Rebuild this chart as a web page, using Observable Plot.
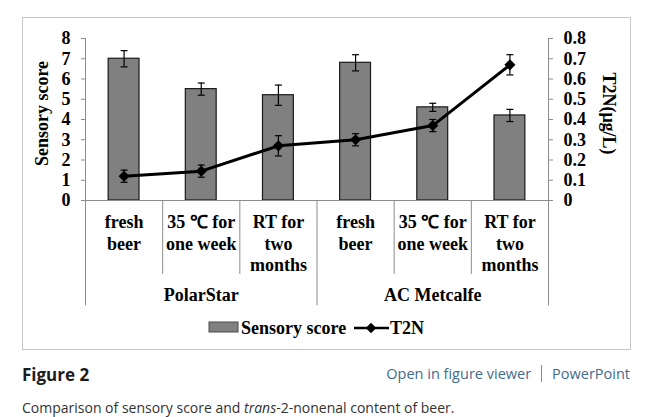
<!DOCTYPE html>
<html>
<head>
<meta charset="utf-8">
<script src="https://cdn.jsdelivr.net/npm/d3@7"></script>
<script src="https://cdn.jsdelivr.net/npm/@observablehq/plot@0.6"></script>
<style>
  html, body { margin: 0; padding: 0; background: #fff; }
  #page { position: relative; width: 660px; height: 417px; overflow: hidden; font-family: "Open Sans", sans-serif; }
  #frame { position: absolute; left: 22px; top: 17px; width: 609px; height: 333px; border: 1px solid #c6c6c6; box-sizing: border-box; }
  .layer { position: absolute; left: 0; top: 0; }
  #legend { position: absolute; left: 0; top: 0; }
  #fig { position: absolute; left: 22px; top: 363px; font-size: 17px; font-weight: 700; color: #1c1c1c; line-height: 24px; }
  #links { position: absolute; right: 30px; top: 362px; font-size: 14.5px; color: #3f6c8e; line-height: 24px; white-space: nowrap; }
  #links .sep { display: inline-block; width: 1px; height: 17px; background: #8a8a8a; vertical-align: -3px; margin: 0 10px 0 10px; }
  #caption { position: absolute; left: 22px; top: 397px; font-size: 14px; color: #333; line-height: 22px; white-space: nowrap; }
</style>
</head>
<body>
<div id="page">
  <div id="frame"></div>
  <div id="plot1" class="layer"></div>
  <div id="plot2" class="layer"></div>
  <svg id="legend" width="660" height="417"></svg>
  <div id="fig">Figure 2</div>
  <div id="links">Open in figure viewer<span class="sep"></span>PowerPoint</div>
  <div id="caption">Comparison of sensory score and <i>trans</i>-2-nonenal content of beer.</div>
</div>
<script>
// ---------- data ----------
const categories = ["fresh\nbeer", "35 ℃ for\none week", "RT for\ntwo\nmonths",
                    "fresh\nbeer", "35 ℃ for\none week", "RT for\ntwo\nmonths"];
const groups = ["PolarStar", "AC Metcalfe"];
const sensoryScore = [7.0, 5.5, 5.2, 6.8, 4.6, 4.2];
const sensoryError = [0.4, 0.3, 0.5, 0.4, 0.2, 0.3];
const t2n = [0.12, 0.145, 0.27, 0.30, 0.37, 0.67];
const t2nError = [0.03, 0.03, 0.05, 0.03, 0.03, 0.05];
const sensoryTicks = [0, 1, 2, 3, 4, 5, 6, 7, 8];
const t2nTicks = [0, 0.1, 0.2, 0.3, 0.4, 0.5, 0.6, 0.7, 0.8];
const seriesNames = ["Sensory score", "T2N"];
const leftTitle = "Sensory score";
const rightTitle = "T2N(μg/L)";

// ---------- derived tables ----------
const rows = categories.map((label, i) => ({
  i, label, group: groups[Math.floor(i / 3)],
  s: sensoryScore[i], se: sensoryError[i],
  t: t2n[i], te: t2nError[i]
}));
const groupRows = groups.map((g, k) => ({g, k}));
const boundaries = d3.range(categories.length + 1);

const axisGray = "#8c8c8c";
const capSymbol = {
  draw(ctx, size) {
    const r = Math.sqrt(size / Math.PI);
    ctx.moveTo(-r, 0);
    ctx.lineTo(r, 0);
  }
};

const common = {
  width: 660, height: 310,
  marginLeft: 85, marginRight: 112, marginTop: 38, marginBottom: 110,
  x: {domain: [0, categories.length], axis: null},
  style: {fontFamily: "'Liberation Serif', 'Times New Roman', serif", fontSize: "18px",
          fontWeight: "bold", background: "transparent", color: "#000", overflow: "visible"}
};

// ---------- bars, left axis, categories ----------
const p1 = Plot.plot({
  ...common,
  y: {domain: [0, 8], axis: null},
  marks: [
    Plot.rectY(rows, {x1: d => d.i + 0.3, x2: d => d.i + 0.7, y1: 0, y2: "s",
      fill: "#808080", stroke: "#1a1a1a", strokeWidth: 1.2}),
    Plot.ruleX(rows, {x: d => d.i + 0.5, y1: d => d.s - d.se, y2: d => d.s + d.se,
      stroke: "#000", strokeWidth: 1.2}),
    Plot.dot(rows.flatMap(d => [{i: d.i, y: d.s - d.se}, {i: d.i, y: d.s + d.se}]),
      {x: d => d.i + 0.5, y: "y", symbol: capSymbol, r: 3.5, stroke: "#000", strokeWidth: 1.2, fill: "none"}),
    Plot.ruleY([0], {stroke: axisGray, strokeWidth: 1}),
    Plot.ruleX([0], {y1: 0, y2: 8, stroke: axisGray, strokeWidth: 1}),
    Plot.ruleX(boundaries, {x: d => d, y1: 0, y2: d => (d % 3 === 0 ? -5.2 : -3.65),
      stroke: axisGray, strokeWidth: 1}),
    Plot.axisY({ticks: sensoryTicks, tickSize: 4, tickPadding: 11, stroke: axisGray,
      fill: "#000", label: null}),
    Plot.text(rows, {x: d => d.i + 0.5, text: "label", frameAnchor: "bottom",
      lineAnchor: "top", dy: 13, lineHeight: 1.17, fill: "#000"}),
    Plot.text(groupRows, {x: d => d.k * 3 + 1.5, text: "g", frameAnchor: "bottom",
      lineAnchor: "middle", dy: 95, fill: "#000"}),
    Plot.text([leftTitle], {frameAnchor: "left", textAnchor: "middle", lineAnchor: "middle",
      rotate: -90, dx: -43, dy: -6, fill: "#000"})
  ]
});
document.getElementById("plot1").appendChild(p1);

// ---------- T2N line, right axis ----------
const p2 = Plot.plot({
  ...common,
  y: {domain: [0, 0.8], axis: null},
  marks: [
    Plot.ruleX([categories.length], {y1: 0, y2: 0.8, stroke: axisGray, strokeWidth: 1}),
    Plot.axisY({anchor: "right", ticks: t2nTicks, tickSize: 4, tickPadding: 11, stroke: axisGray,
      fill: "#000", label: null, tickFormat: d => (d === 0 ? "0" : d3.format(".1f")(d))}),
    Plot.ruleX(rows, {x: d => d.i + 0.5, y1: d => d.t - d.te, y2: d => d.t + d.te,
      stroke: "#000", strokeWidth: 1.2}),
    Plot.dot(rows.flatMap(d => [{i: d.i, y: d.t - d.te}, {i: d.i, y: d.t + d.te}]),
      {x: d => d.i + 0.5, y: "y", symbol: capSymbol, r: 3.5, stroke: "#000", strokeWidth: 1.2, fill: "none"}),
    Plot.line(rows, {x: d => d.i + 0.5, y: "t", stroke: "#000", strokeWidth: 3}),
    Plot.dot(rows, {x: d => d.i + 0.5, y: "t", symbol: "diamond2", r: 5, fill: "#000", stroke: "none"}),
    Plot.text([rightTitle], {frameAnchor: "right", textAnchor: "middle", lineAnchor: "middle",
      rotate: 90, dx: 60, dy: -6, fill: "#000"})
  ]
});
document.getElementById("plot2").appendChild(p2);

// ---------- legend ----------
const lg = d3.select("#legend").append("g")
  .style("font-family", "'Liberation Serif', 'Times New Roman', serif")
  .style("font-size", "18px").style("font-weight", "bold");
lg.append("rect").attr("x", 209).attr("y", 322).attr("width", 29).attr("height", 10)
  .attr("fill", "#808080").attr("stroke", "#4a4a4a").attr("stroke-width", 1);
lg.append("text").attr("x", 241).attr("y", 334).text(seriesNames[0]);
lg.append("line").attr("x1", 354).attr("x2", 389).attr("y1", 328).attr("y2", 328)
  .attr("stroke", "#000").attr("stroke-width", 2.5);
lg.append("path").attr("transform", "translate(371,328)")
  .attr("d", d3.symbol(d3.symbolDiamond2, 70)()).attr("fill", "#000");
lg.append("text").attr("x", 390).attr("y", 334).text(seriesNames[1]);
</script>
</body>
</html>
